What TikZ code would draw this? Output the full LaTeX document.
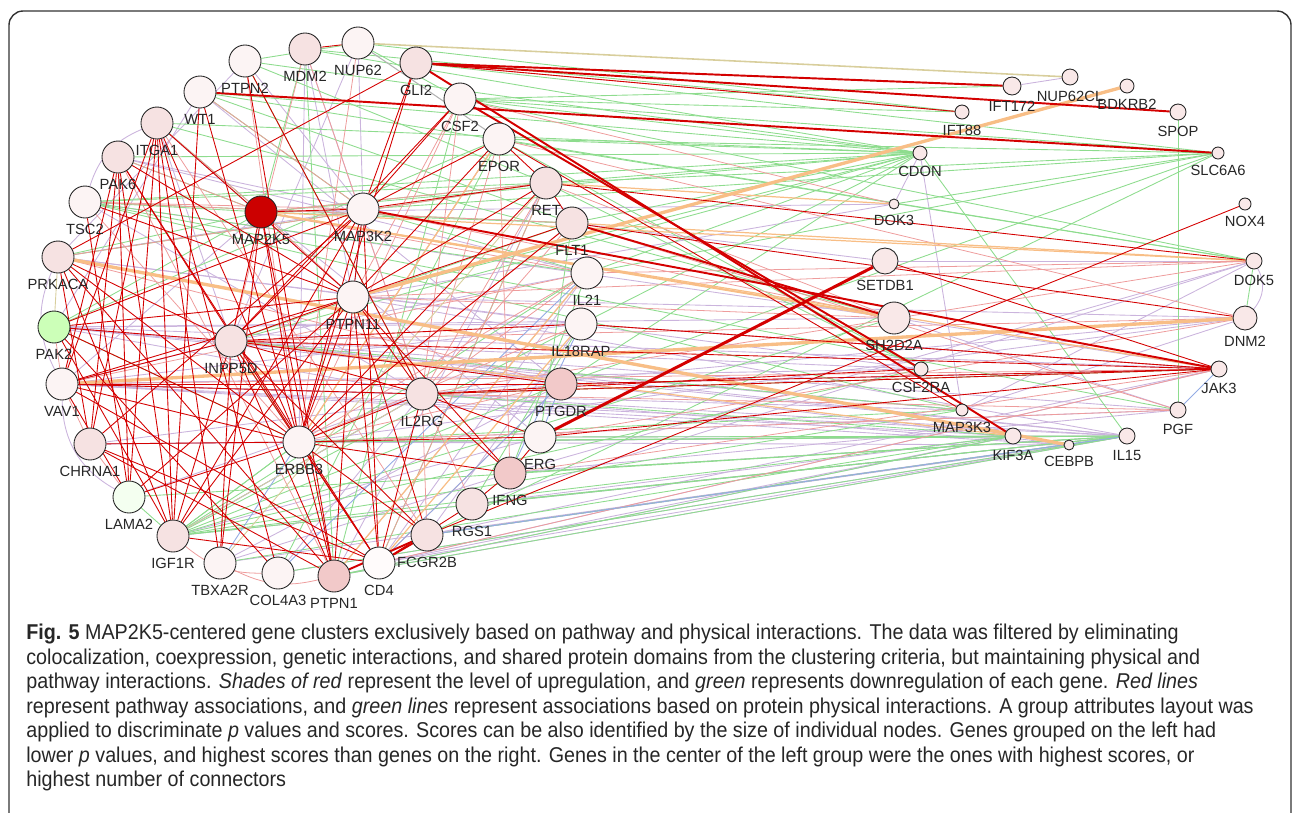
\documentclass[tikz,border=0pt]{standalone}
\usepackage{fontspec}
\setmainfont{Liberation Sans}
\newfontfamily\capfont[FakeStretch=0.92]{Liberation Sans}
\usepackage{tikz}
\usetikzlibrary{backgrounds}

% node fills
\definecolor{nlo}{HTML}{FCF4F4}
\definecolor{nwh}{HTML}{FFFBFB}
\definecolor{nmd}{HTML}{F6E2E2}
\definecolor{nhi}{HTML}{F2C9C9}
\definecolor{rnode}{HTML}{F9E8E8}
\definecolor{mapred}{HTML}{CC0000}
\definecolor{pakgreen}{HTML}{CCFFB8}
\definecolor{lamagreen}{HTML}{F4FFF0}
% edge colours
\definecolor{pwred}{HTML}{D40000}
\definecolor{pwpink}{HTML}{EE9C9C}
\definecolor{phygreen}{HTML}{8EDC8E}
\definecolor{lavc}{HTML}{CBB4DD}
\definecolor{orgc}{HTML}{F8BE86}
\definecolor{tanc}{HTML}{D8CE9C}
\definecolor{bluc}{HTML}{93ABE4}

\tikzset{
  gene/.style={circle, draw=black!85, line width=0.5pt, inner sep=0pt, minimum size=0.64cm},
  glab/.style={font=\fontsize{8.4}{9}\selectfont, text=black!85},
  pw/.style={draw=pwred, line width=0.5pt},
  pwthick/.style={draw=pwred, line width=1.1pt},
  pwlite/.style={draw=pwpink, line width=0.45pt},
  phy/.style={draw=phygreen, line width=0.5pt},
  lav/.style={draw=lavc, line width=0.5pt},
  org/.style={draw=orgc, line width=1.9pt},
  orgthin/.style={draw=orgc, line width=0.7pt},
  tanline/.style={draw=tanc, line width=0.9pt},
  blu/.style={draw=bluc, line width=0.5pt}
}

\begin{document}
\begin{tikzpicture}[x=0.02cm, y=-0.02cm]
    \useasboundingbox (0,0) rectangle (1293,812);

    % Frame
    \draw[line width=0.8pt, draw=black!80, rounded corners=8pt] (9,11) rectangle (1291,850);

    % Left group (low p values)
    \foreach \g/\x/\y/\c in {NUP62/358/43/nlo, MDM2/305/49/nmd, PTPN2/245/61/nlo,
        WT1/200/92/nlo, ITGA1/157/123/nmd, PAK6/118/157/nmd, TSC2/85/202/nlo,
        PRKACA/58/257/nmd, PAK2/54/327/pakgreen, VAV1/62/384/nlo, CHRNA1/90/444/nmd,
        LAMA2/129/497/lamagreen, IGF1R/173/536/nmd, TBXA2R/220/563/nlo,
        COL4A3/278/573/nlo, PTPN1/334/576/nhi, CD4/379/563/nwh, FCGR2B/427/535/nmd,
        RGS1/472/504/nmd, IFNG/510/473/nhi, ERG/540/437/nlo, PTGDR/561/384/nhi,
        IL18RAP/581/324/nlo, IL21/587/273/nlo, FLT1/572/223/nmd, RET/546/183/nmd,
        EPOR/499/139/nlo, CSF2/460/99/nlo, GLI2/416/63/nmd, MAP2K5/261/212/mapred,
        MAP3K2/363/209/nlo, PTPN11/353/297/nlo, INPP5D/231/341/nmd,
        IL2RG/422/394/nmd, ERBB3/299/442/nlo}
      \node[gene, fill=\c, label={[glab]below:\g}] (\g) at (\x,\y) {};

    % Right group (higher p values), radius in px
    \foreach \g/\x/\y/\r in {NUP62CL/1070/77/8, IFT172/1012/86/9, BDKRB2/1127/86/7,
        IFT88/962/112/7, SPOP/1178/112/8, CDON/920/153/7, SLC6A6/1218/153/6,
        DOK3/894/204/5, NOX4/1245/204/6, SETDB1/885/261/13, DOK5/1254/261/8,
        SH2D2A/894/318/16, DNM2/1245/318/12, CSF2RA/921/369/7, JAK3/1219/369/8,
        MAP3K3/962/410/6, PGF/1178/410/8, KIF3A/1013/436/8, CEBPB/1069/445/5,
        IL15/1127/436/8}
      \node[gene, fill=rnode, minimum size=\r*0.04cm, label={[glab]below:\g}] (\g) at (\x,\y) {};

    \begin{scope}[on background layer]
    % lavender links
    \foreach \a/\b in {IL15/VAV1, IL15/PAK2, IL15/INPP5D, IL15/PTPN11, IL15/IL2RG, IL15/CD4,
        IL15/FCGR2B, IL15/RGS1, IL15/IFNG, IL15/ERG, IL15/TBXA2R, IL15/COL4A3, IL15/CHRNA1,
        IL15/PTPN1, IL15/IGF1R, KIF3A/VAV1, KIF3A/PRKACA, KIF3A/PTPN1, KIF3A/CD4, KIF3A/RGS1,
        CEBPB/INPP5D, CEBPB/VAV1, CEBPB/IL2RG, CEBPB/ERBB3, CEBPB/FCGR2B,
        JAK3/PAK2, JAK3/PTGDR, JAK3/IL18RAP, JAK3/FCGR2B, JAK3/SH2D2A, JAK3/CD4,
        PGF/ERBB3, PGF/INPP5D, PGF/SH2D2A, PGF/IFNG, DNM2/PTPN11, DNM2/ERBB3, DNM2/MAP3K3,
        DNM2/IL2RG, DOK5/SETDB1, DOK5/IFNG, DOK5/MAP3K3, DOK5/RGS1, CSF2RA/VAV1, CSF2RA/INPP5D,
        CSF2RA/PRKACA, MAP3K3/PAK2, MAP3K3/VAV1, MAP3K3/INPP5D, DOK3/MAP2K5, DOK3/PTPN11,
        DOK3/CDON, CDON/MAP3K3, IFT172/NUP62CL, SH2D2A/PAK2, SH2D2A/TSC2, SETDB1/FLT1,
        MDM2/IL2RG, MDM2/ERBB3, NUP62/INPP5D, PTPN2/PRKACA, WT1/PAK2, ITGA1/INPP5D,
        PRKACA/MAP3K2, MAP2K5/VAV1, INPP5D/VAV1, INPP5D/PAK2, VAV1/IL2RG, PAK2/IL18RAP,
        VAV1/PTGDR, INPP5D/PTGDR, ERBB3/CHRNA1, IGF1R/IL2RG, COL4A3/IL2RG, PTPN1/IL21,
        TBXA2R/PTGDR, PTPN2/MAP3K2, NUP62/MAP3K2, MDM2/PTPN11, WT1/PTGDR, PAK6/IL21,
        TSC2/IL2RG, PRKACA/IL18RAP, PAK2/IL2RG, VAV1/IL18RAP, CHRNA1/PTGDR, LAMA2/IL2RG,
        IGF1R/ERG, TBXA2R/IFNG, CD4/IL21, FCGR2B/IL18RAP, PTPN1/RET, ERBB3/EPOR,
        INPP5D/IL21, MAP2K5/ERG, ITGA1/PTPN11, PAK6/MAP3K2}
      \draw[lav] (\a) -- (\b);
    \draw[lav] (VAV1) to[bend right=30] (LAMA2);
    \draw[lav] (PRKACA) to[bend right=25] (VAV1);
    \draw[lav] (ITGA1) to[bend right=25] (TSC2);
    \draw[lav] (DOK5) to[bend left=35] (DNM2);

    % green links (physical interactions)
    \foreach \a/\b in {CDON/PTPN2, CDON/WT1, CDON/TSC2, CDON/MAP2K5, CDON/EPOR, CDON/CSF2,
        CDON/RET, CDON/FLT1, CDON/IL21, CDON/PTPN11, CDON/INPP5D, CDON/IL18RAP, CDON/PAK6,
        CDON/MDM2, CDON/IL15, CDON/ITGA1, CDON/PTGDR, SLC6A6/GLI2, SLC6A6/CSF2, SLC6A6/RET,
        SLC6A6/EPOR, SLC6A6/IL21, SLC6A6/FCGR2B, SLC6A6/PTGDR, SLC6A6/DOK3, SLC6A6/MAP3K2,
        IFT88/NUP62, IFT88/MDM2, IFT88/CSF2, IFT172/CSF2, SPOP/PGF, DOK5/CSF2, DOK5/EPOR,
        DOK5/WT1, DOK5/DNM2, IL15/IGF1R, IL15/ERBB3, IL15/LAMA2, IL15/FCGR2B, IL15/RGS1,
        IL15/IFNG, IL15/ERG, IL15/PTPN1, IL15/COL4A3, KIF3A/IGF1R, KIF3A/PTPN1, KIF3A/ERBB3,
        KIF3A/TBXA2R, KIF3A/IL2RG, MAP3K3/IGF1R, MAP3K3/ERBB3, MAP3K3/INPP5D, MAP3K3/TSC2,
        CSF2RA/IGF1R, CSF2RA/CSF2, CSF2RA/EPOR, CSF2RA/RET, SH2D2A/ITGA1, SH2D2A/IGF1R,
        JAK3/IL2RG, PGF/TSC2, MAP2K5/MDM2, MAP2K5/PAK6, MAP2K5/ITGA1, MAP2K5/TSC2,
        MAP2K5/PRKACA, MAP2K5/PAK2, MAP2K5/FLT1, MAP2K5/RET, ERBB3/PAK2, ERBB3/IGF1R,
        ERBB3/INPP5D, IGF1R/IL18RAP, IGF1R/IL21, IGF1R/PTGDR, NUP62/PTPN2, NUP62/CSF2,
        WT1/MAP3K2, WT1/FLT1, PTPN2/RET, PTPN2/IL2RG, TSC2/RET, TSC2/IL21, TSC2/FLT1,
        PAK2/EPOR, PRKACA/RET, MDM2/PTPN1, INPP5D/FLT1, LAMA2/IGF1R, IGF1R/ERBB3,
        PTPN1/CSF2, COL4A3/EPOR, CD4/RET, IFNG/IL21, ERG/FLT1, RGS1/IL18RAP, MAP3K2/IL21,
        GLI2/IFT172}
      \draw[phy] (\a) -- (\b);

    % light red links
    \foreach \a/\b in {MAP2K5/PTPN11, MAP2K5/IL21, MAP2K5/RET, TSC2/MAP3K2, TSC2/FLT1,
        PRKACA/RET, WT1/MAP3K2, PTPN2/ERBB3, MDM2/IL2RG, NUP62/ERBB3, ITGA1/MAP2K5,
        PAK6/MAP2K5, EPOR/IL2RG, EPOR/ERBB3, CSF2/ERBB3, CSF2/IL2RG, RET/IL2RG, FLT1/IL2RG,
        IL21/IL2RG, IL21/ERBB3, IL18RAP/ERBB3, PTGDR/ERBB3, PTGDR/CD4, IL2RG/FCGR2B,
        IL2RG/RGS1, CHRNA1/VAV1, PAK2/VAV1, LAMA2/CHRNA1, PTPN11/SH2D2A, PTPN11/DOK5,
        EPOR/DNM2, RET/SH2D2A, IL21/DOK5, FLT1/PGF, IL18RAP/JAK3, ERBB3/PGF, IL2RG/PGF,
        CSF2/DOK3, CD4/JAK3, VAV1/JAK3, INPP5D/DNM2, IFNG/JAK3, ERG/DNM2, IL2RG/DOK5,
        MAP3K2/SH2D2A, IFT88/GLI2, PAK6/PTPN1, ITGA1/FCGR2B, MDM2/INPP5D, EPOR/IFNG,
        CSF2/PTPN11, RET/CD4, FLT1/ERBB3, IL21/VAV1, PRKACA/PTGDR, TSC2/ERBB3}
      \draw[pwlite] (\a) -- (\b);
    \draw[pwlite] (IGF1R) to[bend right=20] (COL4A3);
    \draw[pwlite] (TBXA2R) to[bend right=20] (PTPN1);

    % blue and tan links
    \foreach \a/\b in {FCGR2B/IL15, TBXA2R/ERBB3, COL4A3/IL21, ERG/PTGDR, IFNG/IL18RAP,
        MAP3K2/PTPN11, JAK3/PGF, IGF1R/IL2RG, CD4/PTGDR}
      \draw[blu] (\a) -- (\b);
    \draw[tanline] (NUP62) -- (NUP62CL);
    \draw[draw=black!30, line width=0.6pt] (NUP62) -- (EPOR);
    \foreach \a/\b in {IGF1R/IL2RG, TBXA2R/RET, PRKACA/PAK2}
      \draw[draw=tanc, line width=0.5pt] (\a) -- (\b);

    % orange links
    \draw[org] (PRKACA) -- (CEBPB);
    \draw[org] (VAV1) -- (DNM2);
    \draw[org] (PTPN11) -- (BDKRB2);
    \draw[orgc, line width=1.2pt] (MAP2K5) -- (SH2D2A);
    \foreach \a/\b in {MAP2K5/JAK3, MAP2K5/DOK5, ERBB3/EPOR, PTPN1/IL21, CD4/IL18RAP,
        FLT1/DOK5, RET/DOK3, INPP5D/KIF3A}
      \draw[orgthin] (\a) -- (\b);

    % red links (pathways)
    \foreach \a/\b in {ITGA1/LAMA2, ITGA1/IGF1R, ITGA1/CHRNA1, ITGA1/ERBB3, ITGA1/TBXA2R,
        ITGA1/COL4A3, ITGA1/PTPN11, ITGA1/VAV1, PAK6/LAMA2, PAK6/IGF1R, PAK6/CHRNA1,
        PAK6/VAV1, PAK6/ERBB3, PAK6/PTPN11, PAK6/CD4, WT1/IGF1R, WT1/ERBB3, GLI2/PRKACA,
        GLI2/MAP3K2, PTPN2/IL2RG, PTPN2/PTPN1, TSC2/PTPN11, TSC2/LAMA2, PRKACA/INPP5D,
        PRKACA/ERBB3, PRKACA/IGF1R, PRKACA/PTPN1, PRKACA/CHRNA1, PAK2/INPP5D, PAK2/ERBB3,
        PAK2/PTPN11, PAK2/MAP3K2, PAK2/IGF1R, VAV1/ERBB3, VAV1/IL2RG, VAV1/PTPN11,
        VAV1/INPP5D, VAV1/CD4, VAV1/LAMA2, VAV1/PTGDR, CHRNA1/ERBB3, CHRNA1/PTPN1,
        CHRNA1/MAP3K2, LAMA2/ERBB3, LAMA2/PTPN11, IGF1R/INPP5D, IGF1R/PTPN11,
        IGF1R/CD4, IGF1R/MAP3K2, TBXA2R/INPP5D, TBXA2R/MAP2K5, COL4A3/PAK2, PTPN1/PTPN11,
        PTPN1/INPP5D, PTPN1/ERBB3, PTPN1/MAP2K5, CD4/INPP5D, CD4/IL2RG, CD4/PTPN11,
        CD4/MAP3K2, CD4/ERBB3, FCGR2B/INPP5D, FCGR2B/ERBB3, FCGR2B/PTPN11, RGS1/CD4,
        IFNG/IL2RG, IFNG/ERBB3, IFNG/PTPN11, IFNG/RGS1, ERG/IFNG, ERG/IL2RG, ERBB3/MAP3K2,
        ERBB3/PTPN11, ERBB3/IL2RG, ERBB3/RET, ERBB3/FLT1, ERBB3/MAP2K5, ERBB3/ERG,
        PTPN11/MAP3K2, PTPN11/FLT1, PTPN11/RET, PTPN11/IL2RG, PTPN11/EPOR, PTPN11/INPP5D,
        INPP5D/MAP2K5, INPP5D/IL2RG, INPP5D/PTGDR, INPP5D/IL18RAP, INPP5D/MAP3K2,
        INPP5D/CSF2, INPP5D/JAK3, MAP2K5/MAP3K2, MAP3K2/CSF2, MAP3K2/EPOR, MAP3K2/RET,
        IL2RG/JAK3, IL2RG/CSF2RA, EPOR/MAP3K3, RET/EPOR, RET/FLT1, PTGDR/JAK3, MDM2/NUP62,
        ERG/JAK3, NOX4/FCGR2B, RET/DOK5, FLT1/DNM2, GLI2/IFT88, SETDB1/JAK3, IL18RAP/JAK3,
        CHRNA1/CD4, GLI2/ERBB3}
      \draw[pw] (\a) -- (\b);
    \foreach \a/\b in {GLI2/IFT172, GLI2/SPOP, WT1/SLC6A6, GLI2/KIF3A, CSF2/CSF2RA,
        MAP3K2/JAK3, FLT1/SH2D2A, PTPN1/FCGR2B, CD4/FCGR2B}
      \draw[pwthick] (\a) -- (\b);
    \draw[pwred, line width=1.7pt] (ERG) -- (SETDB1);
    \end{scope}

    % Caption
    \node[anchor=north west, inner sep=0pt, align=left,
          font=\capfont\fontsize{12.2}{13.9}\selectfont, text=black!85] (caption) at (26,624) {%
      \textbf{Fig. 5} MAP2K5-centered gene clusters exclusively based on pathway and physical interactions. The data was filtered by eliminating\\
      colocalization, coexpression, genetic interactions, and shared protein domains from the clustering criteria, but maintaining physical and\\
      pathway interactions. \textit{Shades of red} represent the level of upregulation, and \textit{green} represents downregulation of each gene. \textit{Red lines}\\
      represent pathway associations, and \textit{green lines} represent associations based on protein physical interactions. A group attributes layout was\\
      applied to discriminate \textit{p} values and scores. Scores can be also identified by the size of individual nodes. Genes grouped on the left had\\
      lower \textit{p} values, and highest scores than genes on the right. Genes in the center of the left group were the ones with highest scores, or\\
      highest number of connectors};
\end{tikzpicture}
\end{document}
